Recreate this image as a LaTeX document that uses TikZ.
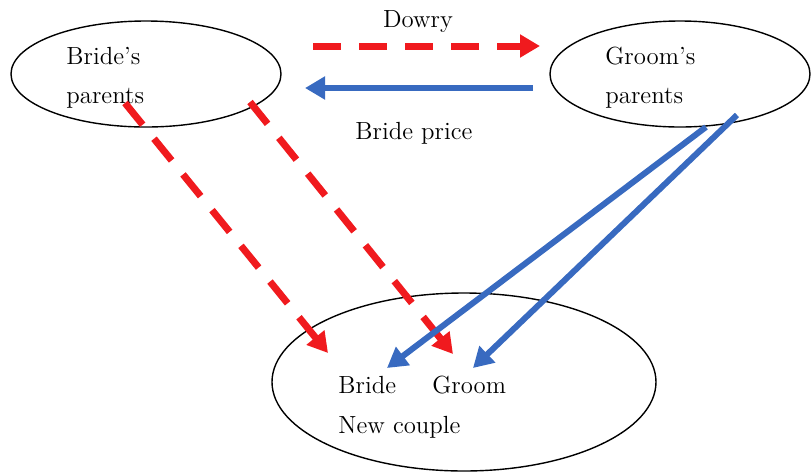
\documentclass[tikz,border=0pt]{standalone}
\usetikzlibrary{
  arrows.meta, % For arrow tips
  shapes.geometric % For the ellipses
}

\definecolor{dowryred}{RGB}{240,26,30}
\definecolor{priceblue}{RGB}{56,106,192}

\begin{document}
\begin{tikzpicture}[
      x=0.5pt, y=-0.5pt, % one unit = one pixel of the sketch
      font=\fontsize{12.4pt}{15pt}\selectfont,
      >={Triangle[length=10pt, width=11pt]}, % Default arrow tip
      party/.style={draw, ellipse, line width=0.7pt, inner sep=0pt}, % Style for the families
      word/.style={anchor=base west, inner sep=0pt}, % Style for the texts
      dowry/.style={draw=dowryred, line width=3.5pt, dash pattern=on 14pt off 9pt, ->}, % Dowry arrows
      price/.style={draw=priceblue, line width=3pt, ->}, % Bride price arrows
    ]

    \useasboundingbox (0,0) rectangle (811,473);

    % Familien
    \node[party, minimum width=135pt, minimum height=53pt] (brides) at (146,74) {};
    \node[party, minimum width=130pt, minimum height=53pt] (grooms) at (680,74) {};
    \node[party, minimum width=192pt, minimum height=89pt] (couple) at (464,382) {};

    % Beschriftungen
    \node[word] (bridesA) at (66,64) {Bride's};
    \node[word] (bridesB) at (66,103) {parents};
    \node[word] (groomsA) at (605,64) {Groom's};
    \node[word] (groomsB) at (605,103) {parents};
    \node[word] (bride) at (338,393) {Bride};
    \node[word] (groom) at (432,393) {Groom};
    \node[word] (newcouple) at (338,433) {New couple};
    \node[anchor=base] (dowrytxt) at (418,27) {Dowry};
    \node[anchor=base] (pricetxt) at (414,139) {Bride price};

    % Koordinaten der Pfeile
    \coordinate (d1) at (313,46);
    \coordinate (d2) at (540,46);
    \coordinate (p1) at (533,88);
    \coordinate (p2) at (305,88);
    \coordinate (r1) at (125,103);
    \coordinate (r2) at (328,353);
    \coordinate (r3) at (250,102);
    \coordinate (r4) at (453,354);
    \coordinate (b1) at (706,127);
    \coordinate (b2) at (387,368);
    \coordinate (b3) at (737,115);
    \coordinate (b4) at (473,368);

    % Pfeile
    \draw[dowry] (d1) -- (d2);
    \draw[price] (p1) -- (p2);
    \draw[dowry] (r1) -- (r2);
    \draw[dowry] (r3) -- (r4);
    \draw[price] (b1) -- (b2);
    \draw[price] (b3) -- (b4);

  \end{tikzpicture}
\end{document}
